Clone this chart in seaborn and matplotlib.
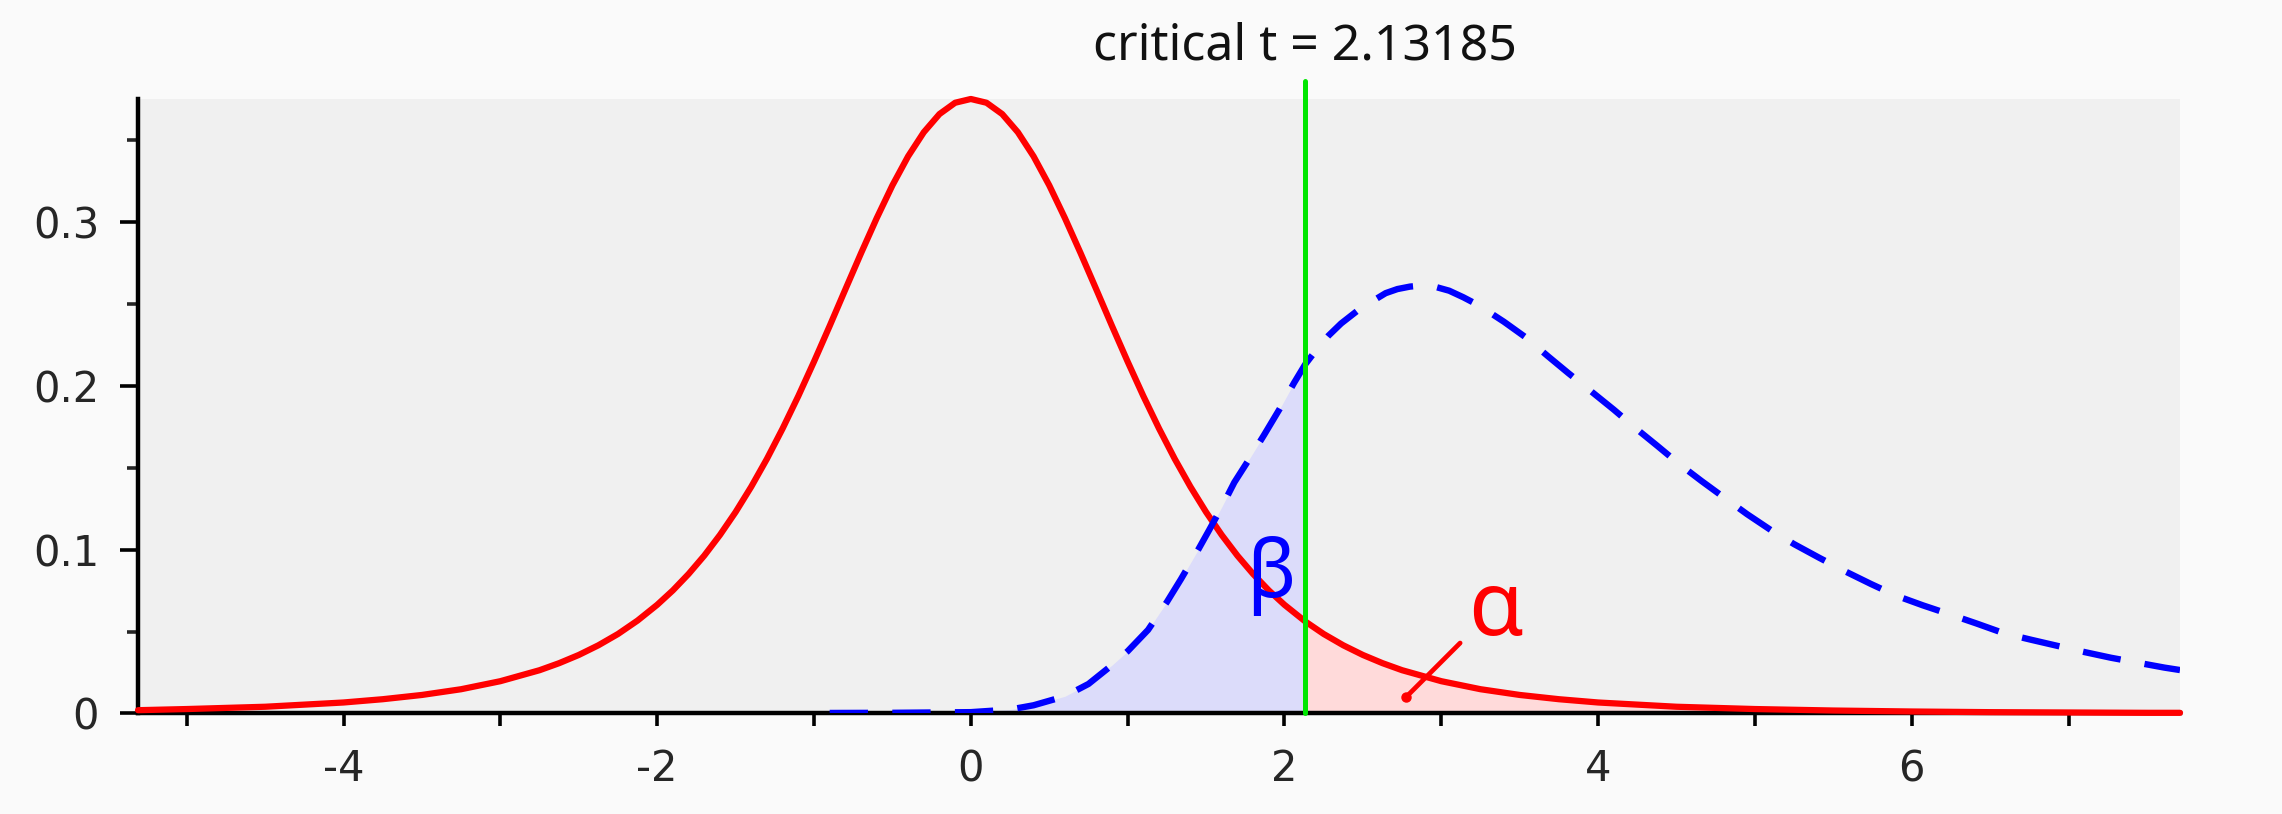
import numpy as np
import pandas as pd
import seaborn as sns
import matplotlib.pyplot as plt
from matplotlib.ticker import MultipleLocator, FixedLocator
import matplotlib.transforms as mtransforms

# critical value of the test
crit_t = 2.13185

# central t curve (red)
t_x = [-5.31, -5.0, -4.5, -4.0, -3.75, -3.5, -3.25, -3.0, -2.75, -2.625, -2.5,
       -2.375, -2.25, -2.125, -2.0, -1.9, -1.8, -1.7, -1.6, -1.5, -1.4, -1.3, -1.2,
       -1.1, -1.0, -0.9, -0.8, -0.7, -0.6, -0.5, -0.4, -0.3, -0.2, -0.1, 0.0, 0.1,
       0.2, 0.3, 0.4, 0.5, 0.6, 0.7, 0.8, 0.9, 1.0, 1.1, 1.2, 1.3, 1.4, 1.5, 1.6,
       1.7, 1.8, 1.9, 2.0, 2.13185, 2.25, 2.375, 2.5, 2.625, 2.75, 3.0, 3.25, 3.5,
       3.75, 4.0, 4.5, 5.0, 5.5, 6.0, 6.5, 7.0, 7.5, 7.71]
t_y = [0.0020, 0.0027, 0.0041, 0.0067, 0.0087, 0.0113, 0.0148, 0.0197, 0.0264,
       0.0307, 0.0357, 0.0416, 0.0485, 0.0567, 0.0663, 0.0751, 0.0851, 0.0963,
       0.1089, 0.1229, 0.1384, 0.1554, 0.1739, 0.1937, 0.2147, 0.2365, 0.2588,
       0.2809, 0.3023, 0.3223, 0.3400, 0.3547, 0.3658, 0.3727, 0.3750, 0.3727,
       0.3658, 0.3547, 0.3400, 0.3223, 0.3023, 0.2809, 0.2588, 0.2365, 0.2147,
       0.1937, 0.1739, 0.1554, 0.1384, 0.1229, 0.1089, 0.0963, 0.0851, 0.0751,
       0.0663, 0.0562, 0.0485, 0.0416, 0.0357, 0.0307, 0.0264, 0.0197, 0.0148,
       0.0113, 0.0087, 0.0067, 0.0041, 0.0027, 0.0018, 0.0012, 0.0008, 0.0006,
       0.0004, 0.0004]

# shifted (alternative) curve (blue dashed)
nct_x = [-0.9, -0.5, 0.0, 0.25, 0.4, 0.6, 0.75, 0.9, 1.0, 1.13, 1.25, 1.34, 1.45,
         1.52, 1.6, 1.68, 1.78, 1.87, 1.97, 2.06, 2.13185, 2.204, 2.28, 2.361,
         2.46, 2.55, 2.645, 2.72, 2.8, 2.88, 2.96, 3.05, 3.14, 3.24, 3.4, 3.54,
         3.68, 3.81, 3.95, 4.1, 4.24, 4.375, 4.52, 4.66, 4.8, 4.95, 5.1, 5.25,
         5.41, 5.576, 5.74, 5.9, 6.07, 6.245, 6.41, 6.586, 6.76, 6.94, 7.1, 7.27,
         7.44, 7.61, 7.71]
nct_y = [0.0003, 0.0004, 0.0008, 0.0024, 0.005, 0.0105, 0.018, 0.0295, 0.038,
         0.051, 0.068, 0.082, 0.100, 0.112, 0.126, 0.141, 0.156, 0.170, 0.186,
         0.2016, 0.213, 0.222, 0.2305, 0.238, 0.2454, 0.251, 0.2565, 0.2590,
         0.2605, 0.2612, 0.2604, 0.2580, 0.2540, 0.249, 0.239, 0.2294, 0.218,
         0.2077, 0.197, 0.1854, 0.174, 0.1635, 0.152, 0.1418, 0.132, 0.1216,
         0.112, 0.1033, 0.095, 0.0867, 0.079, 0.0719, 0.066, 0.0604, 0.055, 0.049,
         0.045, 0.041, 0.0375, 0.034, 0.031, 0.028, 0.0265]

y_ticks = [0.0, 0.1, 0.2, 0.3]
y_tick_labels = ['0', '0.1', '0.2', '0.3']
x_ticks = [-4, -2, 0, 2, 4, 6]
x_tick_labels = ['-4', '-2', '0', '2', '4', '6']

t_df = pd.DataFrame({'t': t_x, 'density': t_y})
nct_df = pd.DataFrame({'t': nct_x, 'density': nct_y})

sns.set_style('ticks')
plt.rcParams['font.family'] = ['DejaVu Sans']

fig = plt.figure(figsize=(22.82, 8.14), dpi=100, facecolor='#fafafa')
ax = fig.add_axes([0.0605, 0.1235, 0.8948, 0.7549])
ax.set_facecolor('#f0f0f0')

# shaded areas: beta under the blue curve left of crit, alpha under red right of it
tx = np.array(t_x)
nx = np.array(nct_x)
ax.fill_between(nx, nct_y, where=nx <= crit_t, color='#dcdcfa', lw=0, zorder=1)
ax.fill_between(tx, t_y, where=tx >= crit_t, color='#ffdada', lw=0, zorder=1)

sns.lineplot(data=t_df, x='t', y='density', ax=ax, color='#ff0000', linewidth=4.5,
             estimator=None, zorder=3, clip_on=False)
sns.lineplot(data=nct_df, x='t', y='density', ax=ax, color='#0000ff', linewidth=4.6,
             linestyle=(0, (6, 3.8)), estimator=None, zorder=3)

ax.set_xlim(-5.31, 7.71)
ax.set_ylim(0, 0.375)

# critical value line and its label
ax.axvline(crit_t, ymin=0, ymax=1.03, color='#00e600', linewidth=3.6, clip_on=False,
           zorder=4)
trans = mtransforms.blended_transform_factory(ax.transData, ax.transAxes)
ax.text(crit_t, 1.085, 'critical t = 2.13185', transform=trans, ha='center',
        va='center', fontsize=36, family='Noto Sans', color='#111111')

ax.text(1.91, 0.084, 'β', color='#0000ff', fontsize=58, ha='center', va='center',
        family='Noto Sans', zorder=5)
ax.text(3.35, 0.062, 'α', color='#ff0000', fontsize=64, ha='center', va='center',
        family='Noto Sans', zorder=5)
ax.annotate('', xy=(2.773, 0.0098), xytext=(3.12, 0.043),
            arrowprops=dict(arrowstyle='-', color='#ff0000', lw=3.4,
                            shrinkA=0, shrinkB=0), zorder=5)
ax.plot([2.773], [0.0098], 'o', color='#ff0000', ms=6.5, zorder=5)

ax.set_xlabel('')
ax.set_ylabel('')
sns.despine(ax=ax)
for side in ['left', 'bottom']:
    ax.spines[side].set_linewidth(3.2)
    ax.spines[side].set_color('black')

ax.xaxis.set_major_locator(FixedLocator(x_ticks))
ax.set_xticklabels(x_tick_labels)
ax.xaxis.set_minor_locator(MultipleLocator(1))
ax.yaxis.set_major_locator(FixedLocator(y_ticks))
ax.set_yticklabels(y_tick_labels)
ax.yaxis.set_minor_locator(MultipleLocator(0.05))

ax.tick_params(axis='x', which='both', direction='out', length=9, width=2.6,
               labelsize=30, pad=16, color='black')
ax.tick_params(axis='y', which='major', direction='out', length=13, width=2.6,
               labelsize=30, pad=15, color='black')
ax.tick_params(axis='y', which='minor', direction='out', length=8, width=2.6)

fig.savefig('out.png', dpi=100, facecolor=fig.get_facecolor())
plt.close(fig)
